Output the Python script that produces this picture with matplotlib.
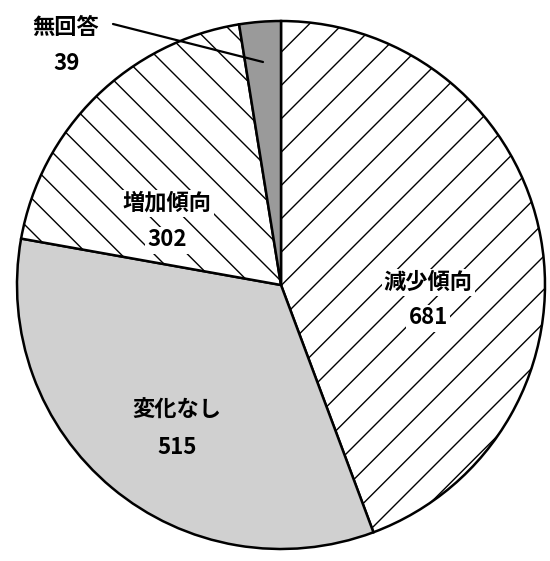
import matplotlib
matplotlib.use("Agg")
import matplotlib.pyplot as plt

plt.rcParams['font.family'] = ['Noto Sans CJK JP', 'DejaVu Sans']
plt.rcParams['hatch.linewidth'] = 1.0

labels = ['減少傾向', '変化なし', '増加傾向', '無回答']
values = [681, 515, 302, 39]
colors = ['white', '#d0d0d0', 'white', '#9a9a9a']
hatches = ['/', '', '\\', '']

# pixel geometry of the pie in the 550x561 image
W, H = 550, 561
cx, cy, r = 281, 285, 264


def to_data(px, py):
    return (px - cx) / r, (cy - py) / r


fig = plt.figure(figsize=(5.5, 5.61), dpi=100)
ax = fig.add_axes([(cx - r) / W, (H - cy - r) / H, 2 * r / W, 2 * r / H])

wedges, _ = ax.pie(values, startangle=90, counterclock=False, colors=colors,
                   radius=1, center=(0, 0), frame=True,
                   wedgeprops=dict(edgecolor='black', linewidth=1.8))
for w, h in zip(wedges, hatches):
    w.set_hatch(h)
ax.set_xlim(-1, 1)
ax.set_ylim(-1, 1)
ax.axis('off')

# label positions (pixel centres of name / value)
label_pos = [((428, 282), (428, 318)),
             ((177, 410), (177, 447)),
             ((167, 203), (167, 240))]
for (name, val), (p1, p2), bg in zip(zip(labels, values), label_pos, colors):
    for txt, p in ((name, p1), (str(val), p2)):
        x, y = to_data(*p)
        ax.text(x, y, txt, ha='center', va='center', fontsize=16,
                fontweight='bold',
                bbox=dict(facecolor=bg, edgecolor='none', pad=1.5))

# outside label with leader line
x1, y1 = to_data(66, 27)
x2, y2 = to_data(67, 63)
ax.text(x1, y1, labels[3], ha='center', va='center', fontsize=16,
        fontweight='bold', clip_on=False)
ax.text(x2, y2, str(values[3]), ha='center', va='center', fontsize=16,
        fontweight='bold', clip_on=False)
ax.annotate('', xy=to_data(263, 62), xytext=to_data(113, 24),
            arrowprops=dict(arrowstyle='-', color='black', lw=1.6,
                            shrinkA=0, shrinkB=0),
            annotation_clip=False)

fig.savefig('out.png', dpi=100, facecolor='white')
